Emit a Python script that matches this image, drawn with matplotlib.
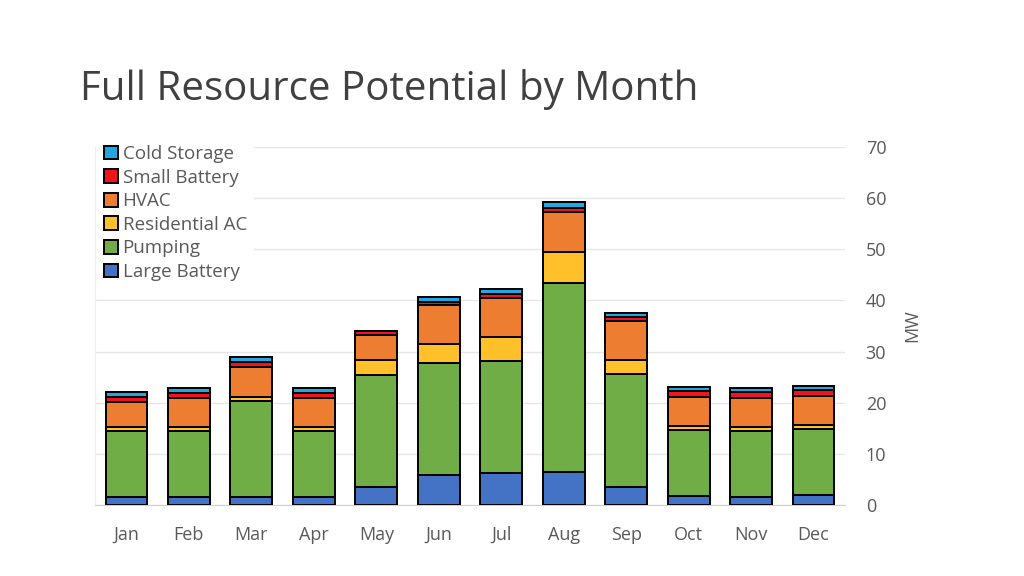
import matplotlib.pyplot as plt
import numpy as np

plt.rcParams['font.family'] = ['Open Sans', 'DejaVu Sans']

months = ['Jan', 'Feb', 'Mar', 'Apr', 'May', 'Jun', 'Jul', 'Aug', 'Sep', 'Oct', 'Nov', 'Dec']

# MW per resource, stacked bottom to top
large_battery = [1.5, 1.5, 1.5, 1.5, 3.5, 5.9, 6.2, 6.5, 3.6, 1.8, 1.5, 2.0]
pumping = [13.0, 13.0, 18.9, 13.0, 22.0, 21.9, 22.0, 36.9, 22.0, 12.9, 13.0, 12.9]
residential_ac = [0.7, 0.8, 0.8, 0.7, 2.9, 3.6, 4.7, 6.0, 2.8, 0.8, 0.8, 0.8]
hvac = [5.0, 5.6, 5.7, 5.7, 4.8, 7.6, 7.6, 7.9, 7.5, 5.7, 5.7, 5.7]
small_battery = [1.0, 1.0, 1.1, 1.0, 0.8, 0.7, 0.7, 0.7, 0.9, 1.0, 1.0, 1.0]
cold_storage = [0.9, 0.9, 0.9, 0.9, 0.0, 1.0, 1.1, 1.2, 0.8, 0.8, 0.8, 0.8]

series = [
    ('Large Battery', large_battery, '#4472C4'),
    ('Pumping', pumping, '#70AD47'),
    ('Residential AC', residential_ac, '#FFC02A'),
    ('HVAC', hvac, '#ED7D31'),
    ('Small Battery', small_battery, '#F0141E'),
    ('Cold Storage', cold_storage, '#22A8E0'),
]

fig = plt.figure(figsize=(10.24, 5.76), dpi=100)
ax = fig.add_axes([0.093, 0.1233, 0.732, 0.6217])

x = np.arange(len(months))
bottom = np.zeros(len(months))
for name, vals, color in series:
    vals = np.array(vals)
    ax.bar(x, vals, 0.67, bottom=bottom, color=color, edgecolor='black',
           linewidth=1.4, label=name, zorder=3)
    bottom += vals

ax.set_ylim(0, 70)
ax.set_xlim(-0.5, len(months) - 0.5)
ax.set_yticks(range(0, 71, 10))
ax.set_xticks(x)
ax.set_xticklabels(months)
ax.yaxis.tick_right()
ax.yaxis.set_label_position('right')
ax.set_ylabel('MW', fontsize=13, color='#595959', labelpad=12)
ax.tick_params(axis='both', length=0, labelsize=13, labelcolor='#595959')
ax.tick_params(axis='y', pad=15)
ax.tick_params(axis='x', pad=15)
ax.grid(axis='y', color='#E6E6E6', linewidth=1, zorder=0)

for side in ['top', 'right']:
    ax.spines[side].set_visible(False)
ax.spines['bottom'].set_color('#D0D0D0')
ax.spines['left'].set_color('#EEEEEE')

handles, labels = ax.get_legend_handles_labels()
leg = ax.legend(handles[::-1], labels[::-1], loc='upper left', bbox_to_anchor=(-0.006, 1.042),
                frameon=True, fontsize=13.5, handlelength=0.75, handleheight=0.75,
                handletextpad=0.25, labelspacing=0.3, borderaxespad=0.3)
leg.get_frame().set_facecolor('white')
leg.get_frame().set_edgecolor('none')
leg.get_frame().set_alpha(1)
for t in leg.get_texts():
    t.set_color('#595959')

fig.text(0.078, 0.845, 'Full Resource Potential by Month', fontsize=29,
         color='#404040', va='center', ha='left')

fig.savefig('out.png', dpi=100)
